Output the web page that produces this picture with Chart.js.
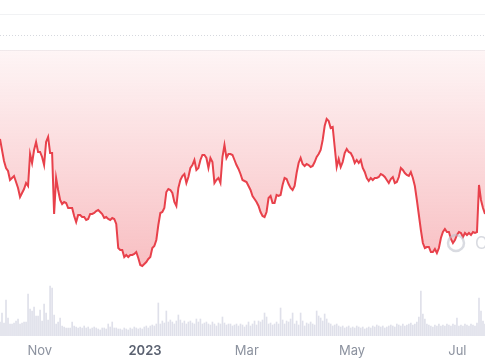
<!DOCTYPE html>
<html lang="en">
<head>
    <meta charset="UTF-8">
    <title>Price chart</title>
    <script src="https://cdn.jsdelivr.net/npm/chart.js"></script>
    <style>
        body { margin: 0; background: #fff; }
        #wrap { width: 485px; height: 360px; }
    </style>
</head>
<body>
<div id="wrap"><canvas id="priceChart" width="485" height="360"></canvas></div>
<script>
    // samples are evenly spaced between these two dates
    var startDate = '2022-10-09';
    var endDate = '2023-07-17';

    var prices = [
        161,150,139,132,129,120,122,124,118,112,
        103,107,111,117,114,146,137,150,158,148,
        148,143,135,158,163,147,147,86,122,110,
        100,96,98,97,92,92,92,84,78,85,
        85,83,83,80,81,86,86,87,89,90,
        88,86,82,83,81,80,82,81,76,52,
        50,50,43,45,43,45,45,46,48,42,
        35,34,36,38,41,43,52,54,60,75,
        87,88,92,108,111,110,107,98,94,112,
        120,124,126,117,123,132,135,140,130,132,
        140,145,145,142,132,142,138,117,120,122,
        117,143,155,142,146,146,145,140,135,131,
        126,120,119,118,114,110,104,101,98,94,
        88,84,83,88,102,104,97,97,105,104,
        105,115,122,121,116,112,110,114,127,137,
        142,136,134,136,135,133,134,138,143,146,
        150,160,174,181,179,172,173,153,133,141,
        133,138,147,151,148,147,143,137,140,137,
        140,132,128,122,119,122,120,122,122,123,
        126,125,123,120,117,121,123,117,118,123,
        132,130,127,125,124,128,122,114,100,85,
        70,57,52,53,53,48,48,51,47,52,
        62,68,71,68,68,61,57,60,65,68,
        67,63,67,65,67,65,68,67,68,115,
        100,92,86
    ];

    var volumes = [
        14,23,13,36,18,12,12,13,15,17,
        12,13,14,14,42,27,25,29,20,20,
        26,15,32,23,16,50,48,21,12,14,
        18,10,9,8,8,8,14,10,9,8,
        9,8,10,8,9,7,8,9,8,7,
        6,8,8,7,12,9,14,8,8,7,
        7,6,8,7,6,8,7,9,8,7,
        8,7,9,10,8,10,11,10,12,33,
        12,15,13,25,14,16,14,12,15,21,
        16,13,15,12,14,15,13,12,17,14,
        17,12,13,14,12,11,14,12,10,13,
        12,19,13,11,12,12,10,11,12,10,
        12,11,9,11,14,10,12,15,11,15,
        14,16,23,19,12,13,11,12,14,12,
        28,16,12,15,14,17,23,12,15,11,
        23,15,10,13,12,14,12,11,25,20,
        18,15,22,17,13,12,10,11,12,10,
        9,10,8,9,10,8,9,8,10,9,
        8,9,7,8,9,8,10,9,11,10,
        9,10,8,9,10,11,10,9,12,11,
        10,12,10,11,12,13,11,12,14,19,
        45,22,17,12,11,10,9,11,10,12,
        10,11,10,12,11,10,12,11,18,10,
        11,10,12,11,10,12,11,10,13,38,
        25,15,12
    ];

    var tickDates = ['2022-11-01', '2023-01-01', '2023-03-01', '2023-05-01', '2023-07-01'];
    var tickLabels = ['Nov', '2023', 'Mar', 'May', 'Jul'];

    var gridLevels = [285, 250];
    var dottedLevel = 265;
    var fillLevel = 250;

    var t0 = Date.parse(startDate);
    var t1 = Date.parse(endDate);
    var step = (t1 - t0) / (prices.length - 1);
    var tickTimes = tickDates.map(function(d) { return Date.parse(d); });

    var priceData = prices.map(function(v, i) { return {x: t0 + i * step, y: v}; });
    var volumeData = volumes.map(function(v, i) { return {x: t0 + i * step, y: v}; });

    // dotted reference line + faint logo in the corner
    var extras = {
        id: 'extras',
        beforeDatasetsDraw: function(chart) {
            var c = chart.ctx, area = chart.chartArea;
            var y = Math.round(chart.scales.y.getPixelForValue(dottedLevel)) + 0.5;
            c.save();
            c.strokeStyle = '#d6d8de';
            c.lineWidth = 1;
            c.setLineDash([1, 2]);
            c.beginPath();
            c.moveTo(area.left, y);
            c.lineTo(area.right, y);
            c.stroke();
            c.restore();
        },
        afterDraw: function(chart) {
            var c = chart.ctx;
            c.save();
            c.globalAlpha = 0.55;
            c.strokeStyle = '#b9bdc9';
            c.lineWidth = 2.5;
            c.beginPath();
            c.arc(456, 243, 8, 0, Math.PI * 2);
            c.stroke();
            c.fillStyle = '#b9bdc9';
            c.font = '17px Inter, sans-serif';
            c.textBaseline = 'middle';
            c.fillText('CoinGecko', 475, 244);
            c.restore();
        }
    };

    var ctx = document.getElementById('priceChart').getContext('2d');
    var chart = new Chart(ctx, {
        type: 'bar',
        data: {
            datasets: [{
                type: 'line',
                data: priceData,
                yAxisID: 'y',
                borderColor: '#e8414b',
                borderWidth: 2,
                pointRadius: 0,
                tension: 0,
                fill: {value: fillLevel},
                backgroundColor: function(context) {
                    var ch = context.chart;
                    if (!ch.chartArea) return 'rgba(234,57,67,0.15)';
                    var ys = ch.scales.y;
                    var g = ch.ctx.createLinearGradient(0, ys.getPixelForValue(fillLevel), 0, ys.getPixelForValue(Math.min.apply(null, prices)));
                    g.addColorStop(0, 'rgba(234,57,67,0.05)');
                    g.addColorStop(1, 'rgba(234,57,67,0.32)');
                    return g;
                },
                order: 0
            }, {
                type: 'bar',
                data: volumeData,
                yAxisID: 'vol',
                backgroundColor: '#dfe0ea',
                barThickness: 1,
                order: 1
            }]
        },
        options: {
            responsive: false,
            animation: false,
            layout: {padding: 0},
            plugins: {
                legend: {display: false},
                tooltip: {enabled: false}
            },
            scales: {
                x: {
                    type: 'linear',
                    offset: false,
                    min: t0,
                    max: t1,
                    grid: {display: false, offset: false, drawTicks: false},
                    border: {display: false},
                    afterBuildTicks: function(scale) {
                        scale.ticks = tickTimes.map(function(v) { return {value: v}; });
                    },
                    afterFit: function(scale) { scale.height = 24; },
                    ticks: {
                        autoSkip: false,
                        maxRotation: 0,
                        padding: 7,
                        color: function(c) { return c.index === 1 ? '#5a6170' : '#8c929f'; },
                        font: function(c) {
                            return {family: 'Inter', size: 13, weight: c.index === 1 ? '600' : '400'};
                        },
                        callback: function(v) { return tickLabels[tickTimes.indexOf(v)]; }
                    }
                },
                y: {
                    min: -36,
                    max: 300,
                    ticks: {display: false},
                    border: {display: false},
                    grid: {color: '#f1f2f4', drawTicks: false},
                    afterBuildTicks: function(scale) {
                        scale.ticks = gridLevels.map(function(v) { return {value: v}; });
                    }
                },
                vol: {
                    display: false,
                    min: 0,
                    max: 336
                }
            }
        },
        plugins: [extras]
    });
</script>
</body>
</html>
